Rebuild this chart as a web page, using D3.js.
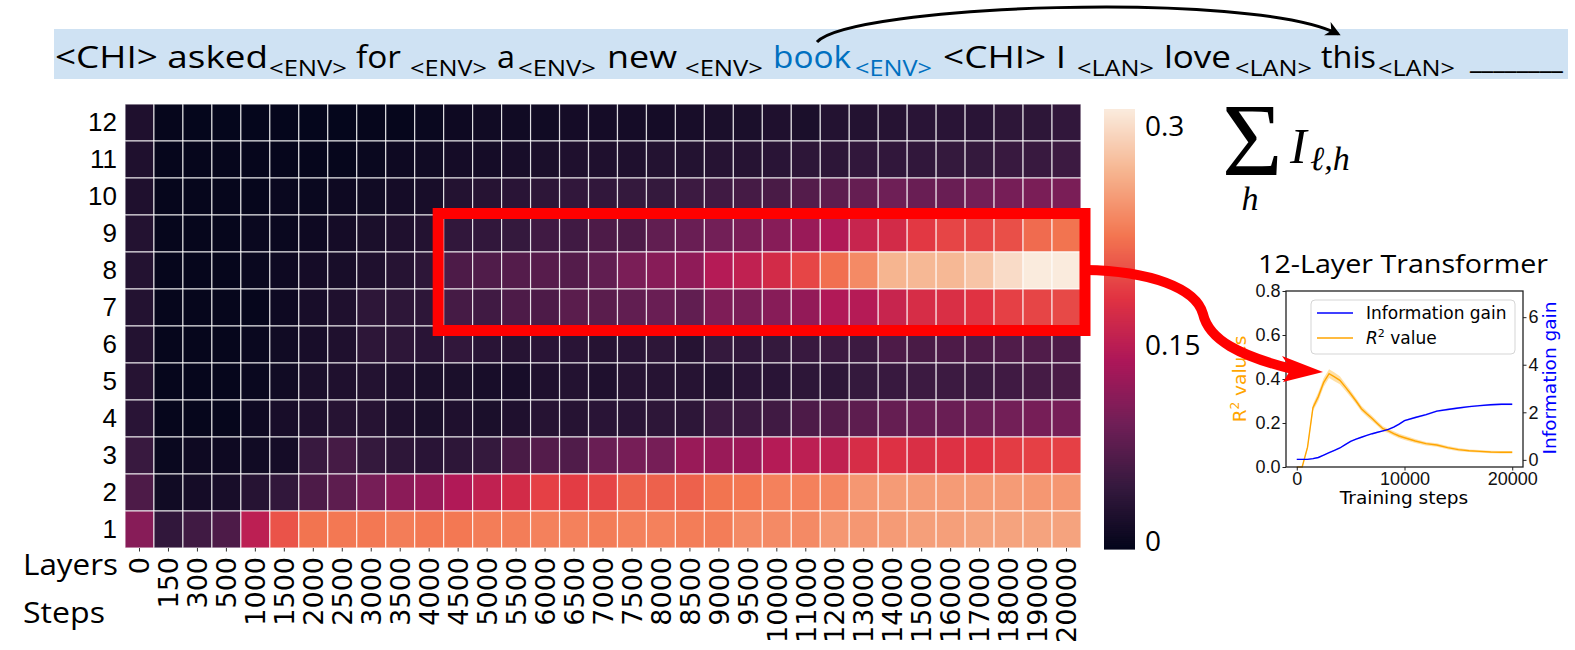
<!DOCTYPE html>
<html>
<head>
<meta charset="utf-8">
<script src="https://cdn.jsdelivr.net/npm/d3@7/dist/d3.min.js"></script>
<style>
  body { margin: 0; background: #fff; }
  svg { display: block; }
</style>
</head>
<body>
<div id="figure"></div>
<script>
//----------------------------------------------------------------
//  Données
//----------------------------------------------------------------
var etapes = ["0","150","300","500","1000","1500","2000","2500","3000","3500","4000","4500",
              "5000","5500","6000","6500","7000","7500","8000","8500","9000","9500","10000",
              "11000","12000","13000","14000","15000","16000","17000","18000","19000","20000"];
var couches = [12,11,10,9,8,7,6,5,4,3,2,1];

var couche12 = [0.026,0.003,0.002,0.002,0.002,0.002,0.002,0.002,0.003,0.003,0.006,0.010,0.013,0.013,0.013,0.016,0.016,0.016,0.016,0.019,0.022,0.022,0.026,0.022,0.029,0.029,0.032,0.035,0.035,0.035,0.038,0.038,0.042];
var couche11 = [0.026,0.003,0.003,0.003,0.003,0.003,0.003,0.003,0.006,0.010,0.013,0.016,0.016,0.019,0.022,0.026,0.026,0.026,0.029,0.029,0.032,0.032,0.035,0.038,0.038,0.042,0.042,0.042,0.045,0.045,0.048,0.048,0.051];
var couche10 = [0.026,0.003,0.003,0.003,0.003,0.006,0.006,0.010,0.013,0.016,0.019,0.029,0.032,0.035,0.038,0.042,0.042,0.045,0.045,0.051,0.054,0.058,0.061,0.070,0.077,0.083,0.090,0.086,0.086,0.093,0.096,0.099,0.099];
var couche9  = [0.029,0.003,0.003,0.003,0.006,0.006,0.010,0.016,0.022,0.026,0.029,0.042,0.042,0.045,0.054,0.054,0.064,0.064,0.080,0.086,0.093,0.099,0.109,0.122,0.141,0.160,0.170,0.186,0.195,0.195,0.202,0.221,0.227];
var couche8  = [0.029,0.003,0.003,0.003,0.006,0.010,0.016,0.019,0.026,0.032,0.038,0.064,0.067,0.070,0.072,0.070,0.080,0.099,0.109,0.115,0.144,0.154,0.170,0.195,0.224,0.243,0.275,0.278,0.278,0.288,0.307,0.320,0.320];
var couche7  = [0.029,0.003,0.003,0.003,0.003,0.010,0.019,0.026,0.038,0.038,0.038,0.058,0.054,0.064,0.064,0.074,0.074,0.080,0.086,0.080,0.102,0.099,0.109,0.118,0.141,0.144,0.160,0.173,0.176,0.182,0.192,0.195,0.198];
var couche6  = [0.029,0.003,0.003,0.003,0.006,0.013,0.019,0.026,0.038,0.038,0.035,0.042,0.035,0.032,0.035,0.035,0.032,0.035,0.038,0.032,0.045,0.042,0.045,0.048,0.051,0.051,0.064,0.061,0.064,0.064,0.067,0.067,0.064];
var couche5  = [0.032,0.003,0.003,0.003,0.006,0.013,0.022,0.026,0.029,0.026,0.022,0.022,0.019,0.019,0.026,0.029,0.026,0.032,0.032,0.032,0.029,0.035,0.035,0.038,0.038,0.045,0.048,0.051,0.051,0.051,0.054,0.058,0.061];
var couche4  = [0.035,0.003,0.003,0.003,0.010,0.019,0.026,0.032,0.032,0.026,0.022,0.026,0.022,0.026,0.032,0.032,0.035,0.035,0.038,0.038,0.051,0.051,0.054,0.064,0.070,0.077,0.083,0.086,0.086,0.090,0.093,0.096,0.096];
var couche3  = [0.048,0.006,0.010,0.010,0.013,0.016,0.048,0.058,0.045,0.038,0.035,0.038,0.045,0.061,0.070,0.067,0.086,0.096,0.096,0.122,0.122,0.125,0.144,0.150,0.154,0.173,0.179,0.176,0.179,0.182,0.189,0.192,0.192];
var couche2  = [0.064,0.013,0.016,0.019,0.032,0.042,0.064,0.077,0.096,0.112,0.122,0.141,0.154,0.170,0.192,0.189,0.195,0.214,0.214,0.214,0.227,0.230,0.237,0.237,0.240,0.253,0.256,0.256,0.256,0.256,0.256,0.253,0.253];
var couche1  = [0.109,0.042,0.054,0.064,0.150,0.205,0.227,0.230,0.230,0.234,0.230,0.230,0.234,0.234,0.237,0.237,0.234,0.237,0.237,0.234,0.234,0.243,0.243,0.243,0.253,0.253,0.256,0.259,0.259,0.262,0.262,0.262,0.262];
var grille = [couche12,couche11,couche10,couche9,couche8,couche7,couche6,couche5,couche4,couche3,couche2,couche1];

// barre de couleur
var vmax = 0.32;
var ticksBarre = [0, 0.15, 0.3];
var etiquettesBarre = ["0", "0.15", "0.3"];

// phrase du bandeau
var mots = ["<CHI> asked","for","a","new","book","<CHI> I","love","this","________"];
var sousMots = ["<ENV>","<ENV>","<ENV>","<ENV>","<ENV>","<LAN>","<LAN>","<LAN>"];
var indiceBleu = 4;

// petit graphique : transformer 12 couches
var pasEntrainement = [0,150,300,500,1000,1500,2000,2500,3000,3500,4000,4500,5000,5500,6000,6500,7000,
                       7500,8000,8500,9000,9500,10000,11000,12000,13000,14000,15000,16000,17000,18000,19000,20000];
var r2Moyen = [0,0,0,0,0.09,0.27,0.32,0.385,0.424,0.41,0.394,0.364,0.333,0.30,0.265,0.242,0.22,0.197,0.174,0.164,0.152,0.141,0.133,0.118,0.106,0.10,0.088,0.079,0.074,0.071,0.068,0.067,0.067];
var r2Ecart = [0,0,0,0,0.01,0.015,0.02,0.02,0.02,0.02,0.018,0.016,0.015,0.014,0.013,0.012,0.012,0.011,0.011,0.01,0.01,0.01,0.01,0.009,0.008,0.008,0.007,0.007,0.006,0.006,0.006,0.006,0.006];
var gainInfo = [0.02,0.02,0.02,0.02,0.02,0.05,0.1,0.2,0.3,0.4,0.5,0.64,0.78,0.87,0.95,1.03,1.1,1.16,1.22,1.28,1.38,1.5,1.65,1.78,1.9,2.05,2.12,2.18,2.24,2.28,2.32,2.34,2.34];
var gainEcart = [0.03,0.03,0.03,0.03,0.03,0.03,0.03,0.03,0.03,0.03,0.03,0.03,0.03,0.03,0.03,0.03,0.03,0.03,0.03,0.03,0.04,0.04,0.04,0.04,0.04,0.04,0.04,0.04,0.04,0.04,0.04,0.04,0.04];
var ticksR2 = [0, 0.2, 0.4, 0.6, 0.8];
var ticksGain = [0, 2, 4, 6];
var ticksPas = [0, 10000, 20000];

//----------------------------------------------------------------
//  Mise en page
//----------------------------------------------------------------
var svg = d3.select("#figure").append("svg")
    .attr("width", 1575)
    .attr("height", 650);

var palette = ["#03051a","#35193e","#701f57","#ad1759","#e13342","#f37651","#f6b48f","#faebdd"];
var rocket = d3.piecewise(d3.interpolateRgb, palette);
var couleur = d3.scaleSequential(rocket).domain([0, vmax]);

//----------------------------------------------------------------
//  Bandeau de la phrase + flèche noire
//----------------------------------------------------------------
var posMots = [[55,268],[356,401],[497,515],[607,677],[773,851],[943,1066],[1164,1231],[1321,1376],[1470,1563]];
var posSous = [[269,347],[410,487],[518,596],[685,763],[855,932],[1077,1154],[1235,1312],[1378,1455]];

svg.append("rect")
    .attr("x", 54).attr("y", 29)
    .attr("width", 1514).attr("height", 50)
    .attr("fill", "#cfe2f3");

mots.forEach(function(m, i){
    svg.append("text")
        .attr("x", posMots[i][0]).attr("y", 68)
        .attr("textLength", posMots[i][1] - posMots[i][0])
        .attr("lengthAdjust", "spacingAndGlyphs")
        .attr("font-family", "Open Sans").attr("font-size", 31)
        .attr("fill", i == indiceBleu ? "#0070c0" : "#000")
        .text(m);
});
sousMots.forEach(function(m, i){
    svg.append("text")
        .attr("x", posSous[i][0]).attr("y", 76)
        .attr("textLength", posSous[i][1] - posSous[i][0])
        .attr("lengthAdjust", "spacingAndGlyphs")
        .attr("font-family", "Open Sans").attr("font-size", 21)
        .attr("fill", i == indiceBleu ? "#0070c0" : "#000")
        .text(m);
});

var defs = svg.append("defs");
defs.append("marker")
    .attr("id", "flecheNoire")
    .attr("viewBox", "0 0 10 10")
    .attr("refX", 8).attr("refY", 5)
    .attr("markerWidth", 5).attr("markerHeight", 5)
    .attr("orient", "auto")
  .append("path")
    .attr("d", "M0,0 L10,5 L0,10 L3,5 z")
    .attr("fill", "#000");

svg.append("path")
    .attr("d", "M817,42 C850,5 1250,-10 1338,34")
    .attr("fill", "none")
    .attr("stroke", "#000")
    .attr("stroke-width", 3)
    .attr("marker-end", "url(#flecheNoire)");

//----------------------------------------------------------------
//  Carte de chaleur
//----------------------------------------------------------------
var x = d3.scaleBand().domain(etapes).range([125, 1081]);
var y = d3.scaleBand().domain(couches).range([104, 548]);

var carte = svg.append("g");
grille.forEach(function(ligne, i){
    carte.append("g").selectAll("rect")
        .data(ligne)
        .enter().append("rect")
            .attr("x", function(d, j) { return x(etapes[j]); })
            .attr("y", y(couches[i]))
            .attr("width", x.bandwidth())
            .attr("height", y.bandwidth())
            .attr("fill", function(d) { return couleur(d); })
            .attr("stroke", "#fff")
            .attr("stroke-opacity", 0.75)
            .attr("stroke-width", 1.2);
});

var axeX = svg.append("g")
    .attr("transform", "translate(0,548)")
    .call(d3.axisBottom(x).tickSize(3.5));
axeX.select(".domain").remove();
axeX.selectAll("line").attr("stroke", "#333");
axeX.selectAll("text")
    .attr("font-family", "DejaVu Sans").attr("font-size", 27)
    .attr("fill", "#000")
    .attr("transform", "rotate(-90)")
    .attr("text-anchor", "end")
    .attr("x", -9).attr("y", 0).attr("dy", "0.36em");

var axeY = svg.append("g")
    .attr("transform", "translate(125,0)")
    .call(d3.axisLeft(y).tickSize(0).tickPadding(8));
axeY.select(".domain").remove();
axeY.selectAll("text")
    .attr("font-family", "Liberation Sans, Arial").attr("font-size", 26)
    .attr("fill", "#000");

svg.append("text").attr("x", 23).attr("y", 575)
    .attr("font-family", "Open Sans").attr("font-size", 29)
    .attr("textLength", 95).attr("lengthAdjust", "spacingAndGlyphs")
    .text("Layers");
svg.append("text").attr("x", 23).attr("y", 623)
    .attr("font-family", "Open Sans").attr("font-size", 29)
    .attr("textLength", 82).attr("lengthAdjust", "spacingAndGlyphs")
    .text("Steps");

// cadre rouge couches 7-9, pas 4500-20000
var yHaut = y(9) - 1.5, yBas = y(7) + y.bandwidth() + 4.5;
var xGauche = x("4500") - 5.5, xDroite = x.range()[1] + 4;
svg.append("rect")
    .attr("x", xGauche).attr("y", yHaut)
    .attr("width", xDroite - xGauche).attr("height", yBas - yHaut)
    .attr("fill", "none")
    .attr("stroke", "#ff0000")
    .attr("stroke-width", 11);

//----------------------------------------------------------------
//  Barre de couleur
//----------------------------------------------------------------
var yBarre = d3.scaleLinear().domain([0, vmax]).range([549, 109]);
var nTranches = 220;
svg.append("g").selectAll("rect")
    .data(d3.range(nTranches))
    .enter().append("rect")
        .attr("x", 1104)
        .attr("y", function(k) { return yBarre((k + 1) / nTranches * vmax); })
        .attr("width", 31)
        .attr("height", function(k) { return yBarre(k / nTranches * vmax) - yBarre((k + 1) / nTranches * vmax) + 0.6; })
        .attr("fill", function(k) { return couleur((k + 0.5) / nTranches * vmax); });

// positions des étiquettes (placées à la main dans l'original)
var yEtiquette = d3.scaleLinear().domain(ticksBarre).range([541, 345, 126]);
svg.append("g").selectAll("text")
    .data(ticksBarre)
    .enter().append("text")
        .attr("x", 1145)
        .attr("y", function(d) { return yEtiquette(d); })
        .attr("dy", "0.36em")
        .attr("font-family", "Open Sans").attr("font-size", 28)
        .text(function(d, i) { return etiquettesBarre[i]; });

// formule  somme_h I_{l,h}
var formule = svg.append("g").attr("font-family", "Liberation Serif, DejaVu Serif");
formule.append("text").attr("x", 1222).attr("y", 175)
    .attr("font-size", 104).text("\u03A3");
formule.append("text").attr("x", 1250).attr("y", 210)
    .attr("text-anchor", "middle")
    .attr("font-size", 34).attr("font-style", "italic").text("h");
formule.append("text").attr("x", 1290).attr("y", 163)
    .attr("font-size", 50).attr("font-style", "italic").text("I");
formule.append("text").attr("x", 1310).attr("y", 170)
    .attr("font-size", 34).attr("font-style", "italic").text("\u2113,h");

//----------------------------------------------------------------
//  Petit graphique : 12-Layer Transformer
//----------------------------------------------------------------
var xi = d3.scaleLinear().domain([-1000, 21000]).range([1286, 1523]);
var yi = d3.scaleLinear().domain([0, 0.8]).range([467, 291]);
var yg = d3.scaleLinear().domain([-0.3, 7.1]).range([467, 291]);

var gi = svg.append("g").attr("font-family", "DejaVu Sans");

gi.append("text")
    .attr("x", 1403).attr("y", 273)
    .attr("text-anchor", "middle")
    .attr("font-family", "Open Sans").attr("font-size", 25)
    .attr("textLength", 290).attr("lengthAdjust", "spacingAndGlyphs")
    .text("12-Layer Transformer");

var indices = d3.range(pasEntrainement.length);

gi.append("path").datum(indices)
    .attr("d", d3.area()
        .x(function(i) { return xi(pasEntrainement[i]); })
        .y0(function(i) { return yg(gainInfo[i] - gainEcart[i]); })
        .y1(function(i) { return yg(gainInfo[i] + gainEcart[i]); }))
    .attr("fill", "blue").attr("fill-opacity", 0.2);

gi.append("path").datum(indices)
    .attr("d", d3.area()
        .x(function(i) { return xi(pasEntrainement[i]); })
        .y0(function(i) { return yi(Math.max(0, r2Moyen[i] - r2Ecart[i])); })
        .y1(function(i) { return yi(r2Moyen[i] + r2Ecart[i]); }))
    .attr("fill", "orange").attr("fill-opacity", 0.35);

gi.append("path").datum(indices)
    .attr("d", d3.line()
        .x(function(i) { return xi(pasEntrainement[i]); })
        .y(function(i) { return yi(r2Moyen[i]); }))
    .attr("fill", "none").attr("stroke", "orange").attr("stroke-width", 1.4);

gi.append("path").datum(indices)
    .attr("d", d3.line()
        .x(function(i) { return xi(pasEntrainement[i]); })
        .y(function(i) { return yg(gainInfo[i]); }))
    .attr("fill", "none").attr("stroke", "blue").attr("stroke-width", 1.4);

gi.append("rect")
    .attr("x", 1286).attr("y", 291)
    .attr("width", 237).attr("height", 176)
    .attr("fill", "none").attr("stroke", "#222").attr("stroke-width", 1.3);

function styleAxe(g){
    g.select(".domain").remove();
    g.selectAll("line").attr("stroke", "#222");
    g.selectAll("text").attr("font-size", 18).attr("fill", "#111");
}
gi.append("g").attr("transform", "translate(1286,0)")
    .call(d3.axisLeft(yi).tickValues(ticksR2).tickFormat(d3.format(".1f")).tickSize(3.5).tickPadding(2))
    .call(styleAxe);
gi.append("g").attr("transform", "translate(1523,0)")
    .call(d3.axisRight(yg).tickValues(ticksGain).tickSize(3.5).tickPadding(2))
    .call(styleAxe);
gi.append("g").attr("transform", "translate(0,467)")
    .call(d3.axisBottom(xi).tickValues(ticksPas).tickFormat(d3.format("d")).tickSize(3.5).tickPadding(2))
    .call(styleAxe);

gi.append("text").attr("x", 1404).attr("y", 504)
    .attr("text-anchor", "middle").attr("font-size", 18.5)
    .text("Training steps");

var labelR2 = gi.append("text")
    .attr("transform", "translate(1246,379) rotate(-90)")
    .attr("text-anchor", "middle").attr("font-size", 18.5)
    .attr("fill", "orange");
labelR2.append("tspan").text("R");
labelR2.append("tspan").attr("dy", -7).attr("font-size", 12).text("2");
labelR2.append("tspan").attr("dy", 7).text(" values");

gi.append("text")
    .attr("transform", "translate(1556,378) rotate(-90)")
    .attr("text-anchor", "middle").attr("font-size", 18.5)
    .attr("fill", "blue")
    .text("Information gain");

// légende
gi.append("rect")
    .attr("x", 1311).attr("y", 300).attr("width", 204).attr("height", 54)
    .attr("rx", 4)
    .attr("fill", "#fff").attr("fill-opacity", 0.8)
    .attr("stroke", "#d5d5d5");
gi.append("line").attr("x1", 1317).attr("x2", 1353).attr("y1", 313).attr("y2", 313)
    .attr("stroke", "blue").attr("stroke-width", 1.4);
gi.append("line").attr("x1", 1317).attr("x2", 1353).attr("y1", 338).attr("y2", 338)
    .attr("stroke", "orange").attr("stroke-width", 1.4);
gi.append("text").attr("x", 1366).attr("y", 319).attr("font-size", 17)
    .text("Information gain");
var legR2 = gi.append("text").attr("x", 1366).attr("y", 344).attr("font-size", 17);
legR2.append("tspan").attr("font-style", "italic").text("R");
legR2.append("tspan").attr("dy", -7).attr("font-size", 11).text("2");
legR2.append("tspan").attr("dy", 7).text(" value");

//----------------------------------------------------------------
//  Flèche rouge vers le pic du R²
//----------------------------------------------------------------
svg.append("path")
    .attr("d", "M1085,270 C1150,271 1196,288 1203,314 C1209,340 1240,356 1292,369")
    .attr("fill", "none")
    .attr("stroke", "#ff0000")
    .attr("stroke-width", 10);
svg.append("path")
    .attr("d", "M1323,372 L1282,356 L1291,369 L1283,382 Z")
    .attr("fill", "#ff0000");
</script>
</body>
</html>
